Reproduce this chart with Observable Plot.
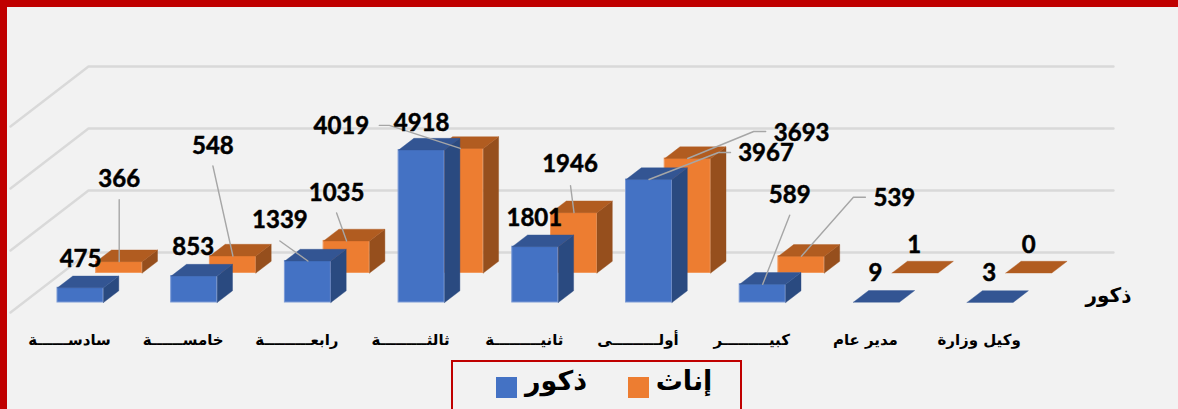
<!DOCTYPE html>
<html lang="ar">
<head>
<meta charset="utf-8">
<script src="https://cdn.jsdelivr.net/npm/d3@7"></script>
<script src="https://cdn.jsdelivr.net/npm/@observablehq/plot@0.6"></script>
<style>
html,body{margin:0;padding:0;width:1178px;height:409px;overflow:hidden;background:#f2f2f2}
#frame{position:absolute;left:0;top:0;width:1171px;height:402px;border-top:7px solid #c00000;border-left:7px solid #c00000;pointer-events:none}
#chart{position:absolute;left:0;top:0}
#legend{position:absolute;left:451px;top:360px;width:287px;height:60px;border:2px solid #c00000;box-sizing:content-box}
#legend i{position:absolute;top:15px;width:21px;height:21px}
#legend span{position:absolute;top:3px;font:bold 27px "DejaVu Sans";color:#000;transform:translateX(-50%);white-space:nowrap}
</style>
</head>
<body>
<div id="chart"></div>
<div id="frame"></div>
<div id="legend">
  <i style="left:43px;background:#4472c4"></i><span id="lm" style="left:103px"></span>
  <i style="left:175px;background:#ed7d31"></i><span id="lf" style="left:231px"></span>
</div>
<script>
const categories = ["سادســــــة","خامســــــة","رابعـــــــــ"+"ة","ثالثـــــــــ"+"ة","ثانيـــــــــ"+"ة","أولـــــــــ"+"ى","كبيـــــــــ"+"ر","مدير عام","وكيل وزارة"];
const male   = [475, 853, 1339, 4918, 1801, 3967, 589, 9, 3];
const female = [366, 548, 1035, 4019, 1946, 3693, 539, 1, 0];
const gridValues = [0, 2000, 4000, 6000];
const maleName = "ذكور", femaleName = "إناث";

// layout (pixels)
const W = 1178, H = 409, step = 113.7, firstCentre = 80, floorY = 302, pxPerUnit = 0.031;
const X = px => (px - firstCentre) / step;     // pixels -> category units
const Yd = px => px / pxPerUnit;               // pixel length -> value units
const barW = X(firstCentre + 46), depthX = 15.3 / step, depthY = Yd(11.7);
const serieShiftX = 38.7 / step, serieShiftY = Yd(29.5);
const wallLeft = X(88), wallRight = X(1113), wallBack = Yd(50), wallSideX = 78 / step, wallSideY = Yd(60);

const maleLabelOffset = [[0,-28],[-1,-29],[-28,-41],[0,-27],[-1,-28],[117,-26],[27,-89],[-1,-29],[-1,-29]];
const femaleLabelOffset = [[0,-82],[-20,-110],[-10,-48],[-119,-22],[-4,-48],[114,-25],[93,-58],[-1,-28],[0,-28]];
const maleLeaders = [null,null,[[0,0],[-28,-20]],null,null,[[0,0],[69.5,-27],[81.5,-27]],[[0,0],[27,-69]],null,null];
const femaleLeaders = [[[0,0],[0,-62]],[[0,0],[-20,-90]],[[0,0],[-10,-28]],[[0,0],[-71,-23],[-81,-23]],[[0,0],[-3.5,-27]],[[0,0],[66,-27],[78,-27]],[[0,0],[52,-59],[64,-59]],null,null];

function bars(values, sx, sy) {
  return values.map((v, i) => ({i, v, cx: i + sx, x1: i + sx - barW / 2, x2: i + sx + barW / 2, y0: sy, y1: sy + v}));
}
const maleBars = bars(male, 0, 0);
const femaleBars = bars(female, serieShiftX, serieShiftY);

function sidePts(bs) {
  return bs.filter(b => b.v > 20).flatMap(b => [
    [b.x2, b.y0], [b.x2 + depthX, b.y0 + depthY], [b.x2 + depthX, b.y1 + depthY], [b.x2, b.y1], [b.x2, b.y0]
  ].map(([x, y]) => ({x, y, z: b.i})));
}
function topPts(bs) {
  return bs.flatMap(b => [
    [b.x1, b.y1], [b.x1 + depthX, b.y1 + depthY], [b.x2 + depthX, b.y1 + depthY], [b.x2, b.y1], [b.x1, b.y1]
  ].map(([x, y]) => ({x, y, z: b.i})));
}
function seriesMarks(bs, front, edge, side, top) {
  return [
    Plot.rect(bs.filter(b => b.v > 20), {x1: "x1", x2: "x2", y1: "y0", y2: "y1", fill: front, stroke: edge, strokeWidth: 1, inset: 0}),
    Plot.line(sidePts(bs), {x: "x", y: "y", z: "z", fill: side, stroke: side, strokeWidth: 0.4, curve: "linear"}),
    Plot.line(topPts(bs), {x: "x", y: "y", z: "z", fill: top, stroke: top, strokeWidth: 0.4, curve: "linear"})
  ];
}
function labelRows(bs, offsets) {
  return bs.map((b, k) => ({t: String(b.v), x: b.cx + offsets[k][0] / step, y: b.y1 - Yd(offsets[k][1])}));
}
function leaderRows(bs, leaders, tag) {
  return bs.flatMap((b, k) => (leaders[k] || []).map(([dx, dy]) => ({x: b.cx + dx / step, y: b.y1 - Yd(dy), z: tag + k})));
}
const gridRows = gridValues.flatMap(g => [
  {x: wallLeft - wallSideX, y: g + wallBack - wallSideY, z: g},
  {x: wallLeft, y: g + wallBack, z: g},
  {x: wallRight, y: g + wallBack, z: g}
]);

const plot = Plot.plot({
  width: W, height: H,
  marginTop: 0, marginRight: 0, marginBottom: 0, marginLeft: 0,
  style: {background: "transparent"},
  x: {type: "linear", axis: null, domain: [X(0), X(W)], range: [0, W]},
  y: {type: "linear", axis: null, domain: [-Yd(H - floorY), Yd(floorY)], range: [H, 0]},
  marks: [
    Plot.line(gridRows, {x: "x", y: "y", z: "z", stroke: "#d9d9d9", strokeWidth: 2.4, curve: "linear"}),
    ...seriesMarks(femaleBars, "#ed7d31", "#f29a5e", "#964f1d", "#b15c20"),
    ...seriesMarks(maleBars, "#4472c4", "#7c9bd6", "#2a4a80", "#335593"),
    Plot.line([...leaderRows(femaleBars, femaleLeaders, "f"), ...leaderRows(maleBars, maleLeaders, "m")],
      {x: "x", y: "y", z: "z", stroke: "#a6a6a6", strokeWidth: 1.4, curve: "linear"}),
    Plot.text([...labelRows(femaleBars, femaleLabelOffset), ...labelRows(maleBars, maleLabelOffset)],
      {x: "x", y: "y", text: "t", fill: "#000", stroke: "#000", strokeWidth: 0.5, fontFamily: "Lato", fontWeight: 700, fontSize: 24}),
    Plot.text(categories, {
      x: (d, i) => i + X(firstCentre - 11),
      y: () => -Yd(38),
      text: d => d, fill: "#000", fontFamily: "DejaVu Sans", fontWeight: 700, fontSize: 15
    }),
    Plot.text([maleName], {
      x: () => X(1108), y: () => Yd(floorY - 295), text: d => d,
      fill: "#000", fontFamily: "DejaVu Sans", fontWeight: 700, fontSize: 20
    })
  ]
});
document.getElementById("chart").append(plot);
document.getElementById("lm").textContent = maleName;
document.getElementById("lf").textContent = femaleName;
</script>
</body>
</html>
